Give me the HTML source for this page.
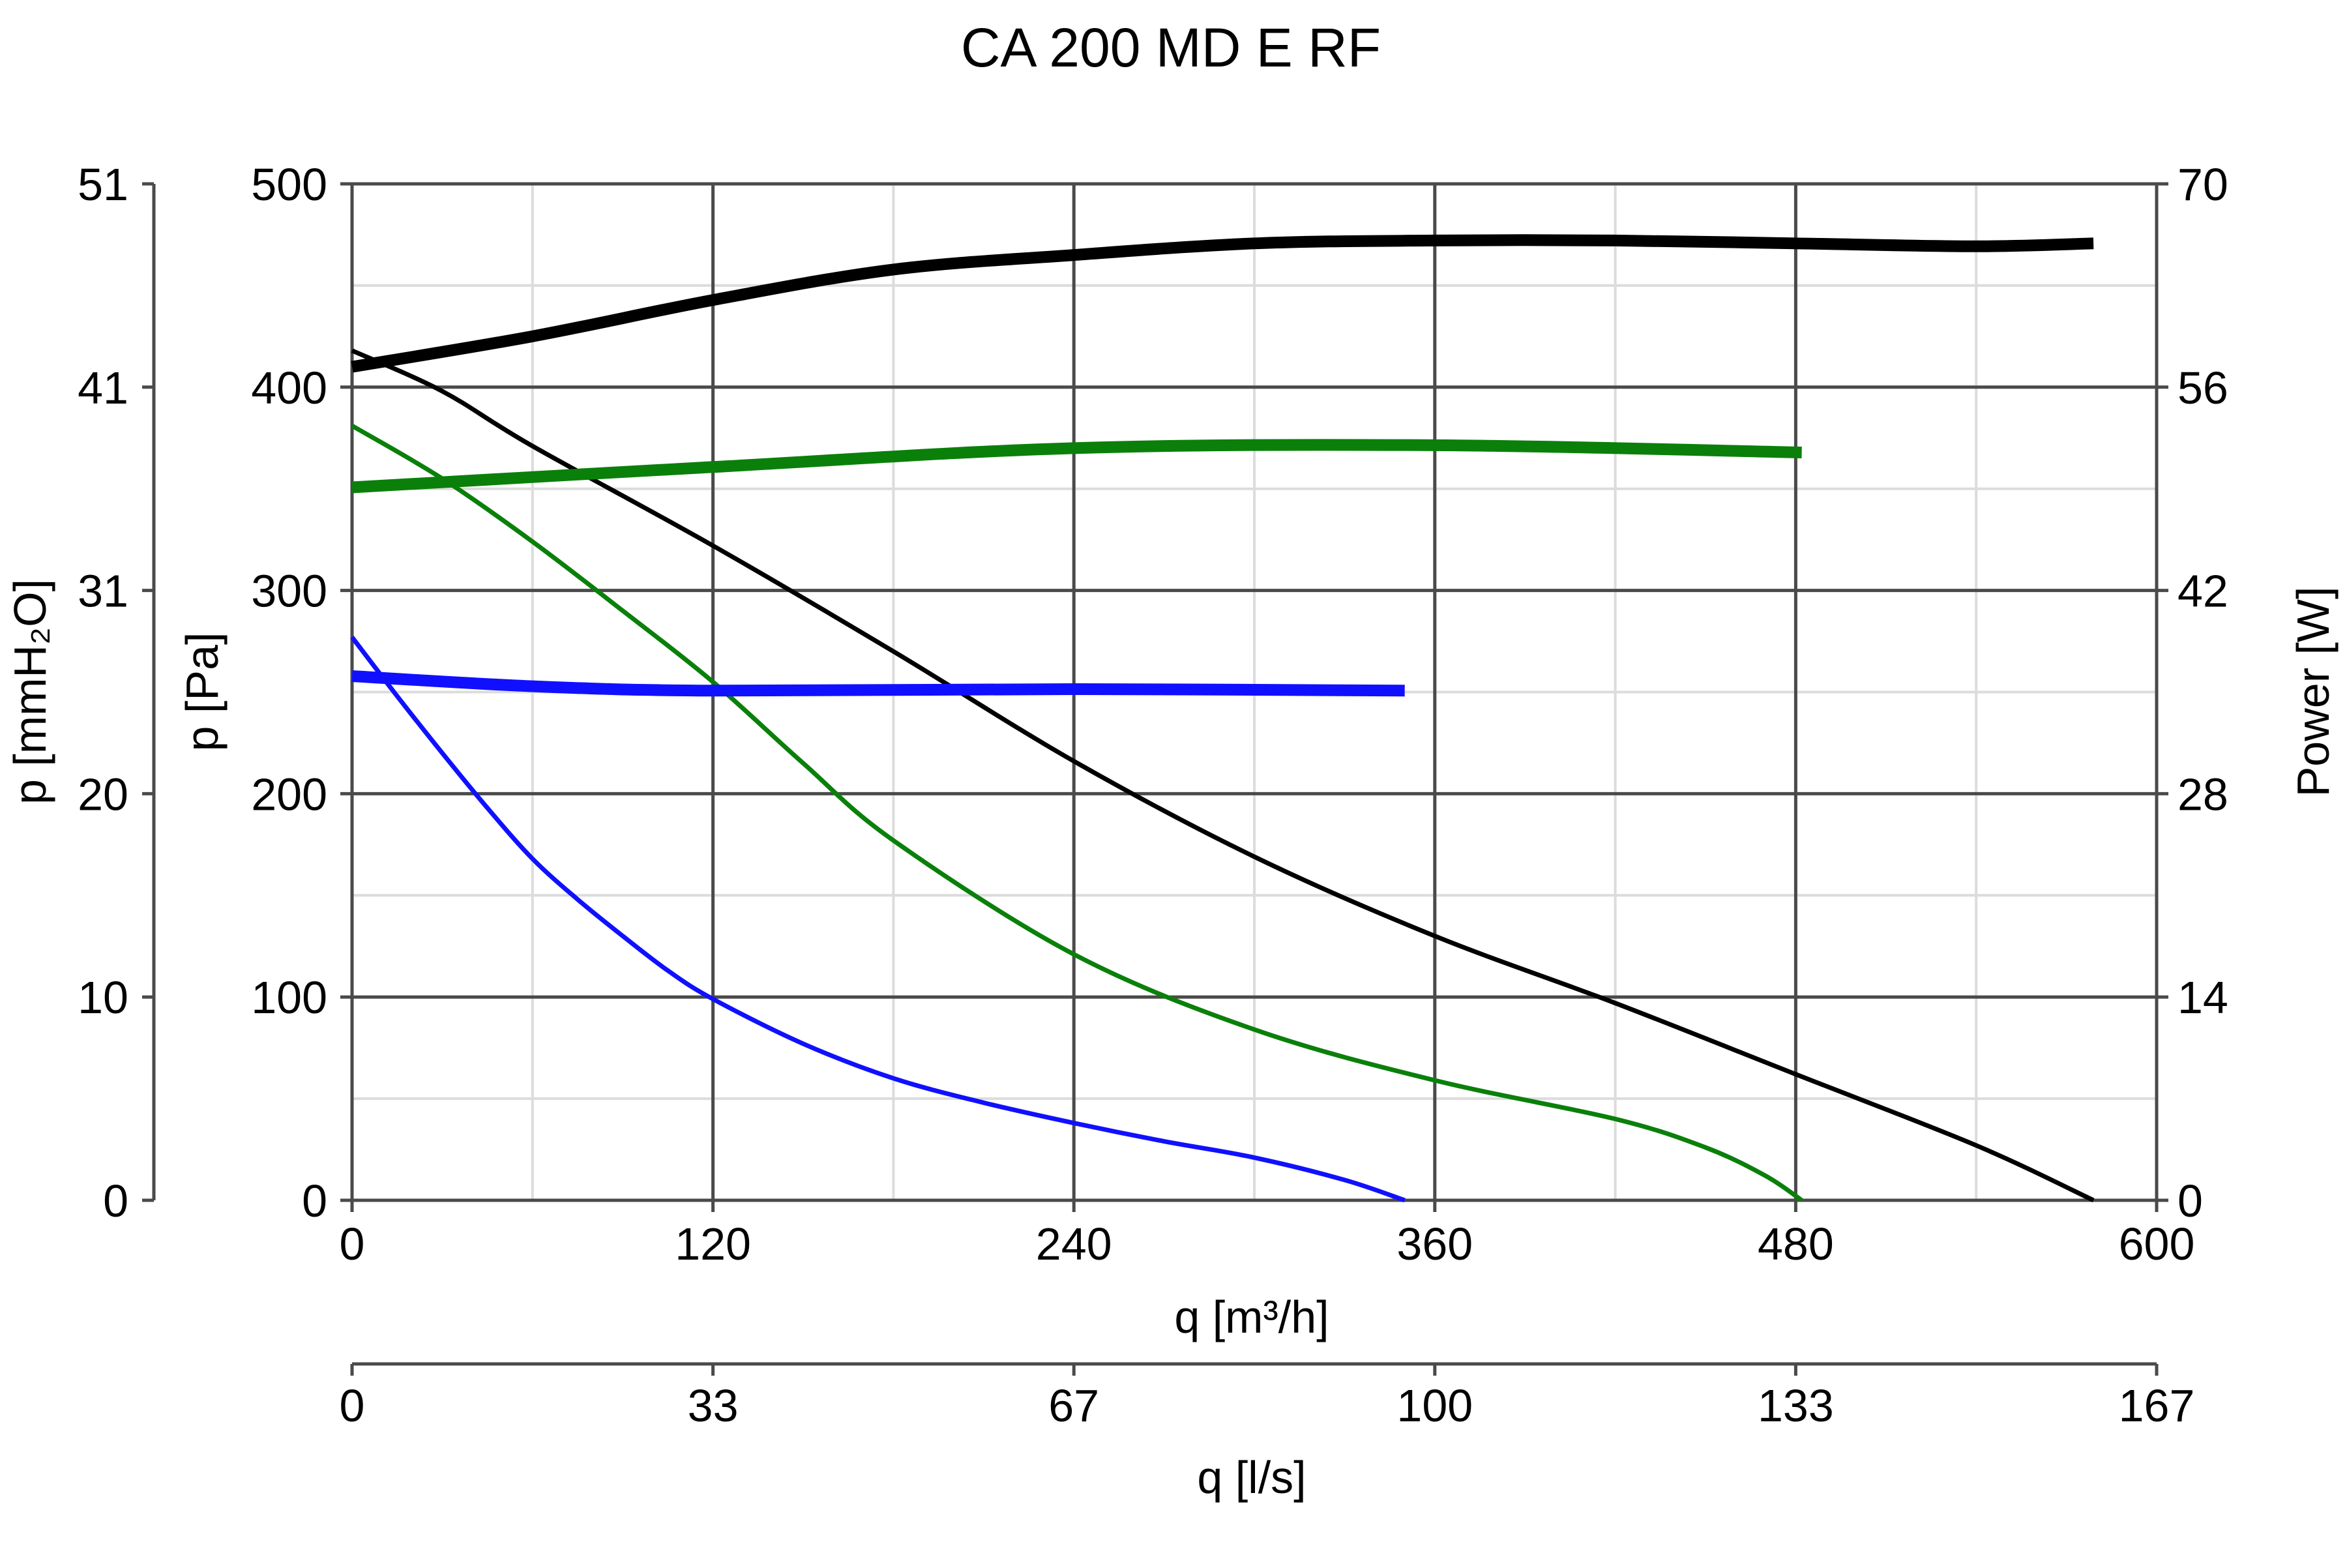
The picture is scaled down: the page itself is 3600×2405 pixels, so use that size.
<!DOCTYPE html>
<html><head><meta charset="utf-8"><style>
html,body{margin:0;padding:0;background:#fff}
svg text{font-family:"Liberation Sans",Arial,sans-serif;fill:#000}
</style></head><body>
<svg id="chart" width="3600" height="2400" viewBox="0 0 3600 2400" xmlns="http://www.w3.org/2000/svg">
<rect width="3600" height="2400" fill="#fff"/>
<text x="1796" y="102" font-size="84" text-anchor="middle">CA 200 MD E RF</text>
<g id="grid"></g>
<g id="axes"></g>
<g id="series"></g>
<text x="1920" y="2044" font-size="70" text-anchor="middle">q [m³/h]</text>
<text x="1920" y="2290" font-size="70" text-anchor="middle">q [l/s]</text>
<text transform="translate(334,1061) rotate(-90)" font-size="70" text-anchor="middle">p [Pa]</text>
<text transform="translate(70,1061) rotate(-90)" font-size="70" text-anchor="middle">p [mmH₂O]</text>
<text transform="translate(3572,1061) rotate(-90)" font-size="70" text-anchor="middle">Power [W]</text>
</svg>
<script>
const xTicks=[0,120,240,360,480,600];
const lsTicks=["0","33","67","100","133","167"];
const yTicks=[0,100,200,300,400,500];
const mmTicks=["0","10","20","31","41","51"];
const wTicks=["0","14","28","42","56","70"];
const blackP_q=[0,30,60,120,180,240,300,360,420,480,540,579];
const blackP_v=[418,398,371,322,270,216,169,130,97,62,27,0];
const blackW_q=[0,60,120,180,240,300,360,420,480,540,579];
const blackW_v=[57.4,59.5,62,64.1,65.1,65.9,66.1,66.1,65.9,65.7,65.9];
const greenP_q=[0,30,60,90,120,150,180,240,300,360,420,450,470,482];
const greenP_v=[381,355,324,290,255,215,177,121,84,59,40,26,12,0];
const greenW_q=[0,120,240,360,482];
const greenW_v=[49.1,50.5,51.8,52,51.5];
const blueP_q=[0,15,30,45,60,75,90,105,120,150,180,210,240,270,300,330,350];
const blueP_v=[277,248,220,193,168,148,130,113,99,77,60,48,38,29,21,10,0];
const blueW_q=[0,60,120,240,350];
const blueW_v=[36.1,35.4,35.1,35.2,35.1];

const L=540,R=3308,T=282,B=1841;
const X=q=>L+q/600*(R-L);
const Y=p=>B-p/500*(B-T);
const YW=w=>B-w/70*(B-T);
const NS='http://www.w3.org/2000/svg';
function mk(parent,tag,attrs){const e=document.createElementNS(NS,tag);for(const k in attrs)e.setAttribute(k,attrs[k]);parent.appendChild(e);return e;}
const grid=document.getElementById('grid'),axes=document.getElementById('axes'),series=document.getElementById('series');
for(let q=60;q<600;q+=120){const e=mk(grid,'line',{x1:X(q),x2:X(q),y1:T,y2:B,stroke:'#dcdcdc','stroke-width':4});

}
for(let p=50;p<500;p+=100){const e=mk(grid,'line',{x1:L,x2:R,y1:Y(p),y2:Y(p),stroke:'#dcdcdc','stroke-width':4});

}
xTicks.forEach((q,i)=>{const e=mk(grid,'line',{x1:X(q),x2:X(q),y1:T,y2:B+18,stroke:'#4a4a4a','stroke-width':5});


const t=mk(axes,'text',{x:X(q),y:1932,'font-size':70,'text-anchor':'middle'});t.textContent=q;


const k=mk(axes,'line',{x1:X(q),x2:X(q),y1:2092,y2:2110,stroke:'#4a4a4a','stroke-width':5});


const t2=mk(axes,'text',{x:X(q),y:2180,'font-size':70,'text-anchor':'middle'});t2.textContent=lsTicks[i];

});
yTicks.forEach((p,i)=>{const e=mk(grid,'line',{x1:L-18,x2:R+18,y1:Y(p),y2:Y(p),stroke:'#4a4a4a','stroke-width':5});


const t=mk(axes,'text',{x:L-38,y:Y(p)+25,'font-size':70,'text-anchor':'end'});t.textContent=p;


const t2=mk(axes,'text',{x:197,y:Y(p)+25,'font-size':70,'text-anchor':'end'});t2.textContent=mmTicks[i];


const k=mk(axes,'line',{x1:218,x2:236,y1:Y(p),y2:Y(p),stroke:'#4a4a4a','stroke-width':5});


const t3=mk(axes,'text',{x:R+32,y:Y(p)+25,'font-size':70,'text-anchor':'start'});t3.textContent=wTicks[i];

});
let a=mk(axes,'line',{x1:236,x2:236,y1:T,y2:B,stroke:'#4a4a4a','stroke-width':5});


a=mk(axes,'line',{x1:L,x2:R,y1:2092,y2:2092,stroke:'#4a4a4a','stroke-width':5});


function curve(qs,vs,yf,color,w,name){
  const pts=qs.map((q,i)=>[X(q),yf(vs[i])]);
  let d='M'+pts[0][0]+','+pts[0][1];
  for(let i=0;i<pts.length-1;i++){
    const p0=pts[Math.max(i-1,0)],p1=pts[i],p2=pts[i+1],p3=pts[Math.min(i+2,pts.length-1)];
    const c1=[p1[0]+(p2[0]-p0[0])/6,p1[1]+(p2[1]-p0[1])/6],c2=[p2[0]-(p3[0]-p1[0])/6,p2[1]-(p3[1]-p1[1])/6];
    d+=' C'+c1+' '+c2+' '+p2;
  }
  const e=mk(series,'path',{d:d,fill:'none',stroke:color,'stroke-width':w,'stroke-linejoin':'round'});
  
  
}
curve(blackP_q,blackP_v,Y,'#000',7,'pressure-curve-black');
curve(greenP_q,greenP_v,Y,'#0a800a',7,'pressure-curve-green');
curve(blueP_q,blueP_v,Y,'#1010ff',7,'pressure-curve-blue');
curve(blackW_q,blackW_v,YW,'#000',18,'power-curve-black');
curve(greenW_q,greenW_v,YW,'#0a800a',18,'power-curve-green');
curve(blueW_q,blueW_v,YW,'#1010ff',18,'power-curve-blue');
</script>
</body></html>
